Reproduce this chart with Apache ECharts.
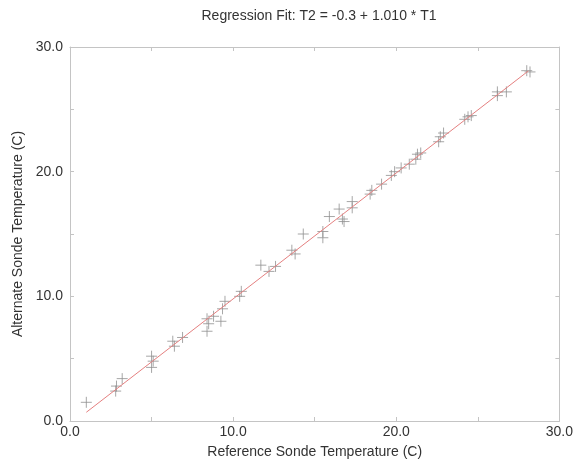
<!DOCTYPE html>
<html><head><meta charset="utf-8">
<script src="https://cdn.jsdelivr.net/npm/echarts@6/dist/echarts.min.js"></script>
<style>html,body{margin:0;padding:0;background:#fff}#c{width:576px;height:465px}</style>
</head><body><div id="c"></div>
<script>
var titleText = "Regression Fit: T2 = -0.3 + 1.010 * T1";
var xName = "Reference Sonde Temperature (C)";
var yName = "Alternate Sonde Temperature (C)";
var refTemp = [1.0,2.8,2.85,3.2,5.0,5.1,5.0,6.3,6.4,6.9,8.4,8.5,8.4,8.8,9.25,9.35,9.5,10.4,10.5,11.7,12.2,12.6,13.6,13.8,14.3,15.5,15.5,15.9,16.8,16.5,16.7,17.3,17.3,18.4,18.5,19.1,19.7,19.9,20.3,20.8,21.2,21.3,21.5,22.6,22.7,22.9,24.2,24.4,24.6,26.2,26.2,26.75,28.2,28.0];
var altTemp = [1.5,2.4,2.8,3.4,5.2,4.8,4.3,6.4,6.0,6.7,8.2,7.8,7.2,8.4,8.0,9.0,9.6,10.0,10.4,12.5,12.0,12.4,13.7,13.4,15.0,15.2,14.7,16.4,16.0,17.0,16.2,17.6,17.1,18.2,18.5,19.0,19.7,20.0,20.3,20.6,21.0,21.4,21.5,22.4,22.8,23.1,24.2,24.4,24.5,26.1,26.4,26.4,28.0,28.1];
var fitX = [1.0, 28.1];
var fitY = [0.7, 28.08];

var pts = refTemp.map(function(v,i){return [v, altTemp[i]];});
var fit = fitX.map(function(v,i){return [v, fitY[i]];});
var font = "'Liberation Sans', Arial, sans-serif";
function fmt(v){return v.toFixed(1);}
function common(){
  return {
    type:'value', min:0, max:30, interval:5,
    axisLine:{show:true, onZero:false, lineStyle:{color:'#c4c4c4', width:1}},
    splitLine:{show:false},
    axisTick:{show:true, inside:true, length:4, lineStyle:{color:'#c4c4c4'}}
  };
}
var chart = echarts.init(document.getElementById('c'));
chart.setOption({
  animation:false,
  backgroundColor:'#ffffff',
  title:{text:titleText, left:314, top:4, textAlign:'center',
    textStyle:{fontFamily:font, fontSize:14, fontWeight:'normal', color:'#333'}},
  grid:{left:70, right:14, top:47, bottom:44},
  xAxis:[
    Object.assign(common(), {position:'bottom',
      name:xName, nameLocation:'middle', nameGap:24,
      nameTextStyle:{fontFamily:font, fontSize:14, color:'#333'},
      axisLabel:{fontFamily:font, fontSize:14, color:'#333', margin:4,
        formatter:function(v){return v%10===0?fmt(v):'';}}}),
    Object.assign(common(), {position:'top', axisLabel:{show:false}})
  ],
  yAxis:[
    Object.assign(common(), {position:'left',
      name:yName, nameLocation:'middle', nameGap:45, nameRotate:90,
      nameTextStyle:{fontFamily:font, fontSize:14, color:'#333'},
      axisLabel:{fontFamily:font, fontSize:14, color:'#333', margin:7,
        formatter:function(v){return v%10===0?fmt(v):'';}}}),
    Object.assign(common(), {position:'right', axisLabel:{show:false}})
  ],
  series:[
    {type:'line', data:fit, xAxisIndex:0, yAxisIndex:0, showSymbol:false, symbol:'none',
      lineStyle:{color:'#e58080', width:1}, z:3},
    {type:'scatter', data:pts, xAxisIndex:0, yAxisIndex:0,
      symbol:'path://M0,5L10,5M5,0L5,10', symbolSize:11,
      itemStyle:{color:'none', borderColor:'#909090', borderWidth:1}, z:2}
  ]
});
</script></body></html>
